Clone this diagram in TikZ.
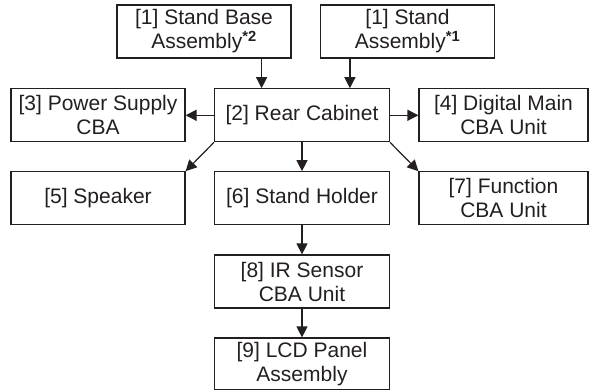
\documentclass[tikz,border=0pt]{standalone}
\usepackage{fontspec}
\setmainfont{Liberation Sans}
\usetikzlibrary{arrows.meta}
\definecolor{ink}{HTML}{231F20}
\begin{document}
\begin{tikzpicture}[x=1pt,y=-1pt,
  box/.style={draw=ink,line width=1.2pt,text=ink,align=center,inner sep=0pt,
    font=\fontsize{21}{24}\selectfont,minimum height=53pt},
  arr/.style={draw=ink,line width=1.2pt,-{Triangle[length=11pt,width=11pt]}}]
\useasboundingbox (0,0) rectangle (589,390);
\node[box,minimum width=174pt] (sb) at (204,31.5) {[1] Stand Base\\Assembly\textsuperscript{\bfseries*2}};
\node[box,minimum width=174pt] (st) at (407.5,31.5) {[1] Stand\\Assembly\textsuperscript{\bfseries*1}};
\node[box,minimum width=174pt] (ps) at (98,115.3) {[3] Power Supply\\CBA};
\node[box,minimum width=175pt] (rc) at (302,115.3) {[2] Rear Cabinet};
\node[box,minimum width=169pt] (dm) at (503.5,115.3) {[4] Digital Main\\CBA Unit};
\node[box,minimum width=174pt,minimum height=52.5pt] (sp) at (98,198) {[5] Speaker};
\node[box,minimum width=175pt,minimum height=52.5pt] (sh) at (302,198) {[6] Stand Holder};
\node[box,minimum width=169pt,minimum height=52.5pt] (fn) at (503.5,198) {[7] Function\\CBA Unit};
\node[box,minimum width=175pt] (ir) at (302,281.5) {[8] IR Sensor\\CBA Unit};
\node[box,minimum width=175pt,minimum height=51.4pt] (lcd) at (302,363.7) {[9] LCD Panel\\Assembly};
\draw[arr] ([xshift=-30pt]sb.south east) -- ([xshift=-30pt]sb.south east |- rc.north);
\draw[arr] ([xshift=30pt]st.south west) -- ([xshift=30pt]st.south west |- rc.north);
\draw[arr] (rc.west) -- (ps.east);
\draw[arr] (rc.east) -- (dm.west);
\draw[arr] (rc.south west) -- (sp.north east);
\draw[arr] (rc.south) -- (sh.north);
\draw[arr] (rc.south east) -- (fn.north west);
\draw[arr] (sh.south) -- (ir.north);
\draw[arr] (ir.south) -- (lcd.north);
\end{tikzpicture}
\end{document}
